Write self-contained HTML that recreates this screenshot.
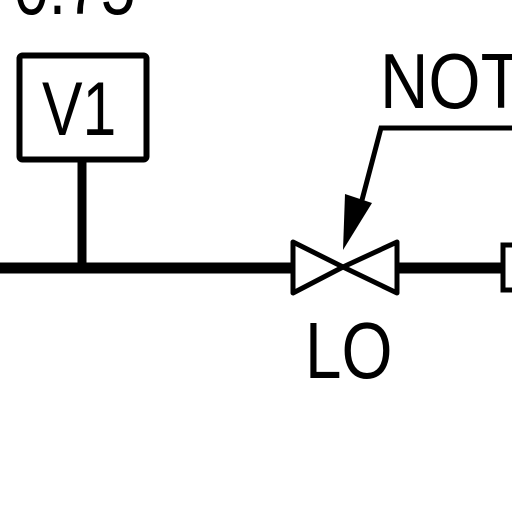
<!DOCTYPE html>
<html><head><style>body{margin:0;background:#fff}svg{display:block}</style></head>
<body>
<svg width="512" height="512" viewBox="0 0 512 512" xmlns="http://www.w3.org/2000/svg">
<g font-family="Liberation Sans, sans-serif" fill="#000">
<text x="0" y="0" transform="translate(14,14) scale(0.8,1)" font-size="78">0.75</text>
<text x="0" y="0" transform="translate(42,135) scale(0.8,1)" font-size="76">V1</text>
<text x="0" y="0" transform="translate(380,108) scale(0.86,1)" font-size="78">NOT</text>
<text x="0" y="0" transform="translate(305,378) scale(0.82,1)" font-size="80">LO</text>
</g>
<rect x="19.5" y="55.5" width="127" height="104" rx="3" fill="none" stroke="#000" stroke-width="6"/>
<line x1="82" y1="158" x2="82" y2="268" stroke="#000" stroke-width="9"/>
<line x1="0" y1="268" x2="293" y2="268" stroke="#000" stroke-width="11"/>
<line x1="396" y1="268" x2="502" y2="268" stroke="#000" stroke-width="11"/>
<polygon points="293,242 293,293 343,267" fill="#fff" stroke="#000" stroke-width="5" stroke-linejoin="round"/>
<polygon points="397,242 397,293 343,267" fill="#fff" stroke="#000" stroke-width="5" stroke-linejoin="round"/>
<path d="M512,128 H381 L362,200" fill="none" stroke="#000" stroke-width="5"/>
<polygon points="343,250 345,194 372,203" fill="#000"/>
<path d="M512,245 H503 V290 H512" fill="none" stroke="#000" stroke-width="5"/>
</svg>
</body></html>
